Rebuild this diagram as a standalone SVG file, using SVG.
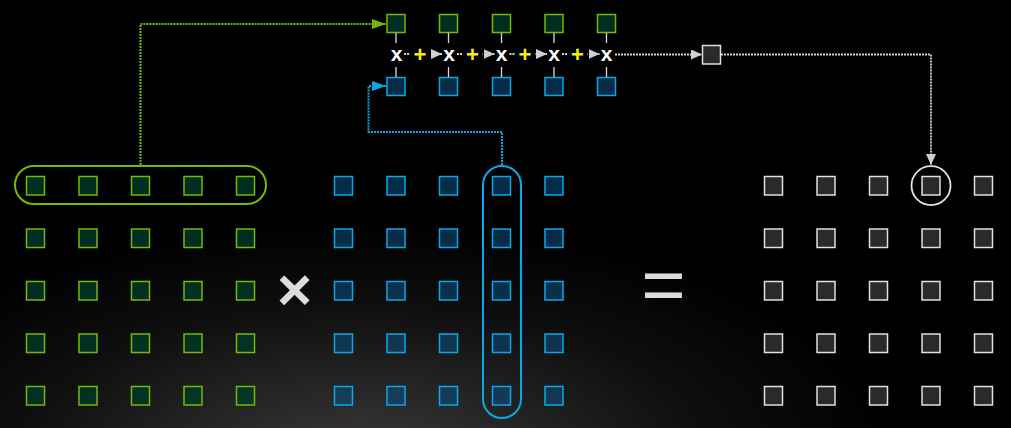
<svg xmlns="http://www.w3.org/2000/svg" width="1011" height="428" viewBox="0 0 1011 428">
<defs>
<radialGradient id="glow" gradientUnits="userSpaceOnUse" cx="360" cy="460" r="300" gradientTransform="translate(360 460) scale(1.8 0.8) translate(-360 -460)">
<stop offset="0" stop-color="#3a3a3a"/>
<stop offset="0.3" stop-color="#262626"/>
<stop offset="0.65" stop-color="#0e0e0e"/>
<stop offset="1" stop-color="#000"/>
</radialGradient>
<marker id="ag" markerUnits="userSpaceOnUse" markerWidth="14" markerHeight="12" refX="14" refY="6" orient="auto"><path d="M0,1 L14,6 L0,11 z" fill="#76b900"/></marker>
<marker id="ab" markerUnits="userSpaceOnUse" markerWidth="14" markerHeight="12" refX="14" refY="6" orient="auto"><path d="M0,1 L14,6 L0,11 z" fill="#0ba8e6"/></marker>
<marker id="aw" markerUnits="userSpaceOnUse" markerWidth="11" markerHeight="10" refX="11" refY="5" orient="auto"><path d="M0,0 L11,5 L0,10 z" fill="#d0d0d0"/></marker>
</defs>
<style>
.g{fill:#003a28;fill-opacity:0.8;stroke:#76b900;stroke-width:1.5}
.b{fill:#0a4e80;fill-opacity:0.55;stroke:#0ba8e6;stroke-width:1.5}
.w{fill:#2a2a2a;stroke:#e0e0e0;stroke-width:1.5}
.x{font-family:"Liberation Sans",Arial,sans-serif;font-weight:bold;font-size:21px;fill:#fff;text-anchor:middle}
.p{font-family:"Liberation Sans",Arial,sans-serif;font-weight:bold;font-size:22px;fill:#f2f200;text-anchor:middle}
.op{font-family:"Liberation Sans",Arial,sans-serif;fill:#dcdcdc;text-anchor:middle}
.tick{stroke:#d8d8d8;stroke-width:1.3}
.cw{fill:none;stroke:#d0d0d0;stroke-width:1.8;stroke-dasharray:2 1}
</style>
<rect width="1011" height="428" fill="#000"/>
<rect width="1011" height="428" fill="url(#glow)"/>

<g id="matrixA">
<rect x="15" y="166" width="251" height="38" rx="19" fill="none" stroke="#76b900" stroke-width="2"/>
<rect class="g" x="26.5" y="176.5" width="18" height="18.5"/><rect class="g" x="79" y="176.5" width="18" height="18.5"/><rect class="g" x="131.5" y="176.5" width="18" height="18.5"/><rect class="g" x="184" y="176.5" width="18" height="18.5"/><rect class="g" x="236.5" y="176.5" width="18" height="18.5"/>
<rect class="g" x="26.5" y="229" width="18" height="18.5"/><rect class="g" x="79" y="229" width="18" height="18.5"/><rect class="g" x="131.5" y="229" width="18" height="18.5"/><rect class="g" x="184" y="229" width="18" height="18.5"/><rect class="g" x="236.5" y="229" width="18" height="18.5"/>
<rect class="g" x="26.5" y="281.5" width="18" height="18.5"/><rect class="g" x="79" y="281.5" width="18" height="18.5"/><rect class="g" x="131.5" y="281.5" width="18" height="18.5"/><rect class="g" x="184" y="281.5" width="18" height="18.5"/><rect class="g" x="236.5" y="281.5" width="18" height="18.5"/>
<rect class="g" x="26.5" y="334" width="18" height="18.5"/><rect class="g" x="79" y="334" width="18" height="18.5"/><rect class="g" x="131.5" y="334" width="18" height="18.5"/><rect class="g" x="184" y="334" width="18" height="18.5"/><rect class="g" x="236.5" y="334" width="18" height="18.5"/>
<rect class="g" x="26.5" y="386.5" width="18" height="18.5"/><rect class="g" x="79" y="386.5" width="18" height="18.5"/><rect class="g" x="131.5" y="386.5" width="18" height="18.5"/><rect class="g" x="184" y="386.5" width="18" height="18.5"/><rect class="g" x="236.5" y="386.5" width="18" height="18.5"/>
</g>

<g id="times"><text class="op" x="294.5" y="310" font-size="60" font-weight="bold">×</text></g>

<g id="matrixB">
<rect x="483" y="166" width="38" height="252" rx="19" fill="none" stroke="#0ba8e6" stroke-width="2"/>
<rect class="b" x="334.5" y="176.5" width="18" height="18.5"/><rect class="b" x="387" y="176.5" width="18" height="18.5"/><rect class="b" x="439.5" y="176.5" width="18" height="18.5"/><rect class="b" x="492.5" y="176.5" width="18" height="18.5"/><rect class="b" x="545" y="176.5" width="18" height="18.5"/>
<rect class="b" x="334.5" y="229" width="18" height="18.5"/><rect class="b" x="387" y="229" width="18" height="18.5"/><rect class="b" x="439.5" y="229" width="18" height="18.5"/><rect class="b" x="492.5" y="229" width="18" height="18.5"/><rect class="b" x="545" y="229" width="18" height="18.5"/>
<rect class="b" x="334.5" y="281.5" width="18" height="18.5"/><rect class="b" x="387" y="281.5" width="18" height="18.5"/><rect class="b" x="439.5" y="281.5" width="18" height="18.5"/><rect class="b" x="492.5" y="281.5" width="18" height="18.5"/><rect class="b" x="545" y="281.5" width="18" height="18.5"/>
<rect class="b" x="334.5" y="334" width="18" height="18.5"/><rect class="b" x="387" y="334" width="18" height="18.5"/><rect class="b" x="439.5" y="334" width="18" height="18.5"/><rect class="b" x="492.5" y="334" width="18" height="18.5"/><rect class="b" x="545" y="334" width="18" height="18.5"/>
<rect class="b" x="334.5" y="386.5" width="18" height="18.5"/><rect class="b" x="387" y="386.5" width="18" height="18.5"/><rect class="b" x="439.5" y="386.5" width="18" height="18.5"/><rect class="b" x="492.5" y="386.5" width="18" height="18.5"/><rect class="b" x="545" y="386.5" width="18" height="18.5"/>
</g>

<g id="equals"><text class="op" x="663.5" y="311" font-size="76">=</text></g>

<g id="matrixC">
<circle cx="931" cy="185.7" r="19.5" fill="none" stroke="#e0e0e0" stroke-width="1.8"/>
<rect class="w" x="764.5" y="176.5" width="18" height="18.5"/><rect class="w" x="817" y="176.5" width="18" height="18.5"/><rect class="w" x="869.5" y="176.5" width="18" height="18.5"/><rect class="w" x="922" y="176.5" width="18" height="18.5"/><rect class="w" x="974.5" y="176.5" width="18" height="18.5"/>
<rect class="w" x="764.5" y="229" width="18" height="18.5"/><rect class="w" x="817" y="229" width="18" height="18.5"/><rect class="w" x="869.5" y="229" width="18" height="18.5"/><rect class="w" x="922" y="229" width="18" height="18.5"/><rect class="w" x="974.5" y="229" width="18" height="18.5"/>
<rect class="w" x="764.5" y="281.5" width="18" height="18.5"/><rect class="w" x="817" y="281.5" width="18" height="18.5"/><rect class="w" x="869.5" y="281.5" width="18" height="18.5"/><rect class="w" x="922" y="281.5" width="18" height="18.5"/><rect class="w" x="974.5" y="281.5" width="18" height="18.5"/>
<rect class="w" x="764.5" y="334" width="18" height="18.5"/><rect class="w" x="817" y="334" width="18" height="18.5"/><rect class="w" x="869.5" y="334" width="18" height="18.5"/><rect class="w" x="922" y="334" width="18" height="18.5"/><rect class="w" x="974.5" y="334" width="18" height="18.5"/>
<rect class="w" x="764.5" y="386.5" width="18" height="18.5"/><rect class="w" x="817" y="386.5" width="18" height="18.5"/><rect class="w" x="869.5" y="386.5" width="18" height="18.5"/><rect class="w" x="922" y="386.5" width="18" height="18.5"/><rect class="w" x="974.5" y="386.5" width="18" height="18.5"/>
</g>

<g id="connectors">
<path d="M140.5 165 V24 H386" fill="none" stroke="#76b900" stroke-width="2" stroke-dasharray="2 1" marker-end="url(#ag)"/>
<path d="M502 165 V132 H368.5 V86 H386" fill="none" stroke="#0ba8e6" stroke-width="2" stroke-dasharray="2 1" marker-end="url(#ab)"/>
<line class="cw" x1="404" y1="54" x2="442" y2="54" marker-end="url(#aw)"/>
<line class="cw" x1="457" y1="54" x2="494.5" y2="54" marker-end="url(#aw)"/>
<line class="cw" x1="509.5" y1="54" x2="547" y2="54" marker-end="url(#aw)"/>
<line class="cw" x1="562" y1="54" x2="599.5" y2="54" marker-end="url(#aw)"/>
<line class="cw" x1="615" y1="54.5" x2="702" y2="54.5" marker-end="url(#aw)"/>
<path class="cw" d="M721 54.5 H931 V165" marker-end="url(#aw)"/>
</g>

<g id="dotChain">
<g id="topA">
<rect class="g" x="387" y="14.5" width="18" height="18"/><rect class="g" x="439.5" y="14.5" width="18" height="18"/><rect class="g" x="492.5" y="14.5" width="18" height="18"/><rect class="g" x="545" y="14.5" width="18" height="18"/><rect class="g" x="597.5" y="14.5" width="18" height="18"/>
</g>
<g id="topB">
<rect class="b" x="387" y="77.5" width="18" height="18"/><rect class="b" x="439.5" y="77.5" width="18" height="18"/><rect class="b" x="492.5" y="77.5" width="18" height="18"/><rect class="b" x="545" y="77.5" width="18" height="18"/><rect class="b" x="597.5" y="77.5" width="18" height="18"/>
</g>
<g id="ticks">
<line class="tick" x1="396" y1="33" x2="396" y2="43"/><line class="tick" x1="448.5" y1="33" x2="448.5" y2="43"/><line class="tick" x1="501.5" y1="33" x2="501.5" y2="43"/><line class="tick" x1="554" y1="33" x2="554" y2="43"/><line class="tick" x1="606.5" y1="33" x2="606.5" y2="43"/>
<line class="tick" x1="396" y1="67" x2="396" y2="77"/><line class="tick" x1="448.5" y1="67" x2="448.5" y2="77"/><line class="tick" x1="501.5" y1="67" x2="501.5" y2="77"/><line class="tick" x1="554" y1="67" x2="554" y2="77"/><line class="tick" x1="606.5" y1="67" x2="606.5" y2="77"/>
</g>
<g id="products">
<text class="x" x="396.5" y="61">x</text><text class="x" x="449" y="61">x</text><text class="x" x="501.5" y="61">x</text><text class="x" x="554" y="61">x</text><text class="x" x="606.5" y="61">x</text>
</g>
<g id="sums">
<rect x="410" y="45" width="20" height="18" fill="#000"/><rect x="462.5" y="45" width="20" height="18" fill="#000"/><rect x="515" y="45" width="20" height="18" fill="#000"/><rect x="567.5" y="45" width="20" height="18" fill="#000"/>
<text class="p" x="420" y="62">+</text><text class="p" x="472.5" y="62">+</text><text class="p" x="525" y="62">+</text><text class="p" x="577.5" y="62">+</text>
</g>
<g id="sumResult"><rect class="w" x="702.5" y="45.5" width="18" height="18.5"/></g>
</g>
</svg>
